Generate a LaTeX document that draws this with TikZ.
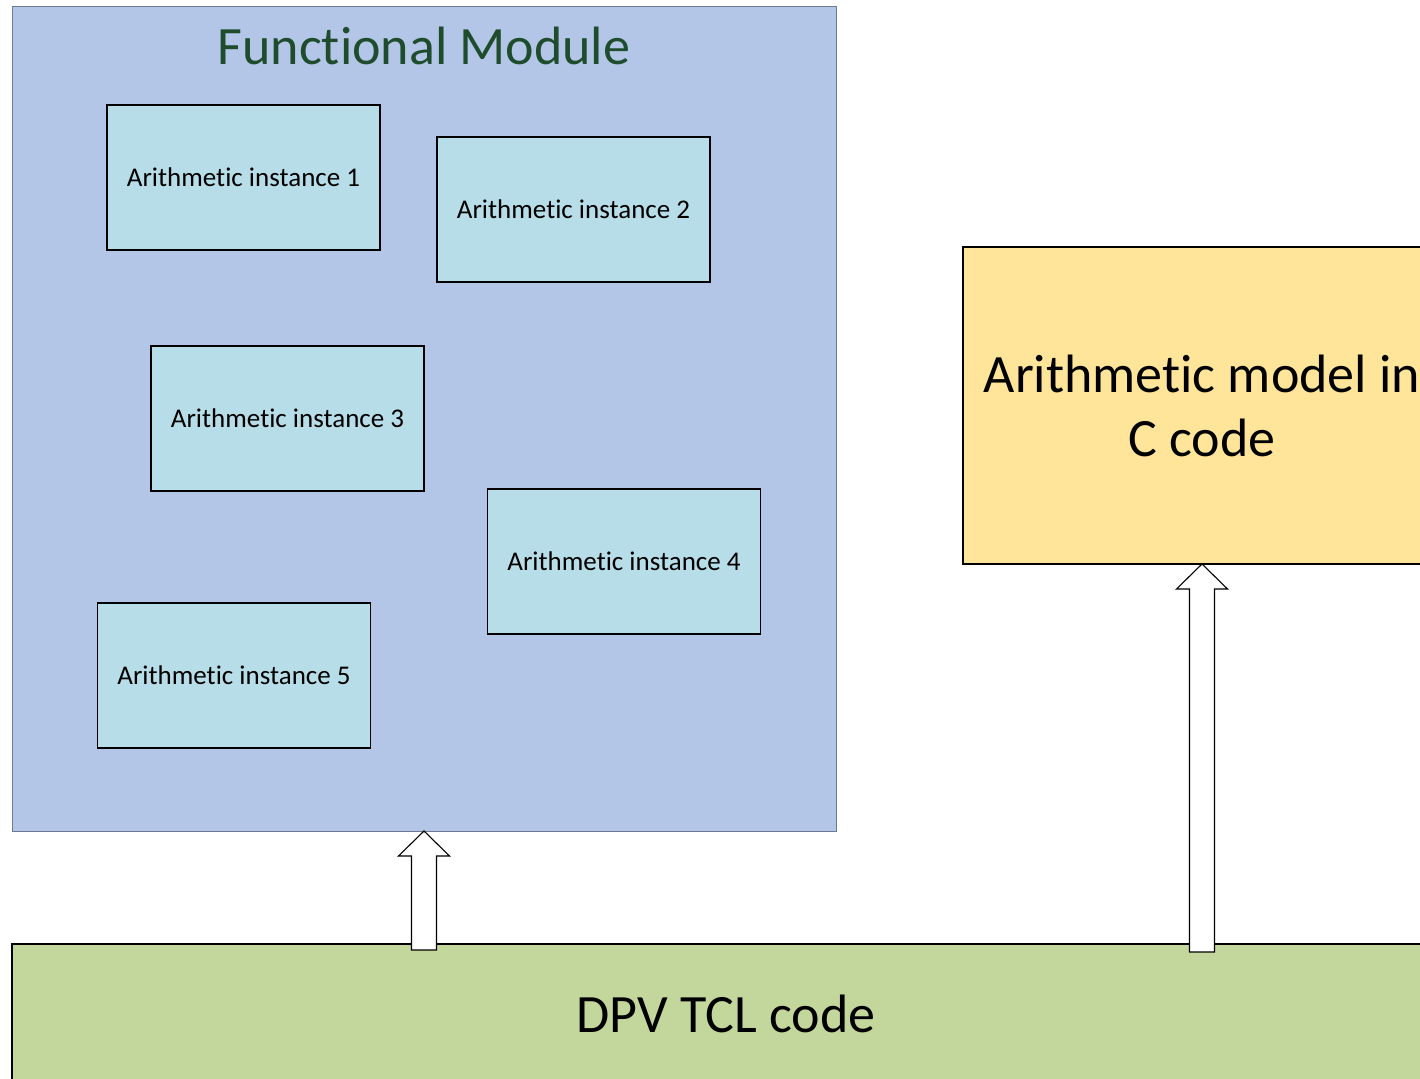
\documentclass[tikz,border=0pt]{standalone}
\usepackage{fontspec}
\setmainfont[Ligatures={NoCommon}]{Carlito}
\usetikzlibrary{calc}
\definecolor{fmfill}{HTML}{B4C6E7}
\definecolor{fmline}{HTML}{6E7A90}
\definecolor{instfill}{HTML}{B7DEE8}
\definecolor{modelfill}{HTML}{FFE599}
\definecolor{dpvfill}{HTML}{C3D69B}
\definecolor{titlegreen}{RGB}{30,76,44}
\tikzset{
  panel/.style={draw=fmline, line width=0.9pt, fill=fmfill, inner sep=0pt, outer sep=0pt},
  inst/.style={draw=black, line width=1.3pt, fill=instfill, inner sep=0pt, outer sep=0pt,
    minimum width=273pt, minimum height=145pt, font=\fontsize{27}{32}\selectfont},
  bigbox/.style={draw=black, line width=1.2pt, inner sep=0pt, outer sep=0pt,
    align=center, font=\fontsize{54}{64}\selectfont},
  blockarrow/.style={draw=black, line width=1.1pt, fill=white, line join=miter},
}
\begin{document}
\begin{tikzpicture}[x=1pt, y=-1pt]
\useasboundingbox (0,0) rectangle (1420,1078);
\fill[white] (0,0) rectangle (1420,1078);

% functional module panel and its title
\node[panel, minimum width=824pt, minimum height=825pt] (fm) at (424,418.5) {};
\node[text=titlegreen, font=\fontsize{54}{64}\selectfont, inner sep=0pt] (title) at (424,46) {Functional Module};

% arithmetic instances
\node[inst] (i1) at (243.5,177.5) {Arithmetic instance 1};
\node[inst] (i2) at (573.5,209.5) {Arithmetic instance 2};
\node[inst] (i3) at (287.5,418.5) {Arithmetic instance 3};
\node[inst] (i4) at (624,561.5) {Arithmetic instance 4};
\node[inst] (i5) at (234,675.5) {Arithmetic instance 5};

% C model and TCL driver
\node[bigbox, fill=modelfill, minimum width=478pt, minimum height=317pt] (model) at (1202,405.5)
  {Arithmetic model in\\C code};
\node[bigbox, fill=dpvfill, minimum width=1428pt, minimum height=140pt] (dpv) at (726,1014)
  {DPV TCL code};

% hollow block arrows from the TCL code up to its targets
\draw[blockarrow] let \p1=(fm.south), \p2=(dpv.north) in
  (\x1,\y1) -- (\x1+25.5pt,\y1-25pt) -- (\x1+12.5pt,\y1-25pt) -- (\x1+12.5pt,\y2-6pt)
  -- (\x1-12.5pt,\y2-6pt) -- (\x1-12.5pt,\y1-25pt) -- (\x1-25.5pt,\y1-25pt) -- cycle;
\draw[blockarrow] let \p1=(model.south), \p2=(dpv.north) in
  (\x1,\y1) -- (\x1+25.5pt,\y1-25pt) -- (\x1+12.5pt,\y1-25pt) -- (\x1+12.5pt,\y2-8pt)
  -- (\x1-12.5pt,\y2-8pt) -- (\x1-12.5pt,\y1-25pt) -- (\x1-25.5pt,\y1-25pt) -- cycle;
\end{tikzpicture}
\end{document}
